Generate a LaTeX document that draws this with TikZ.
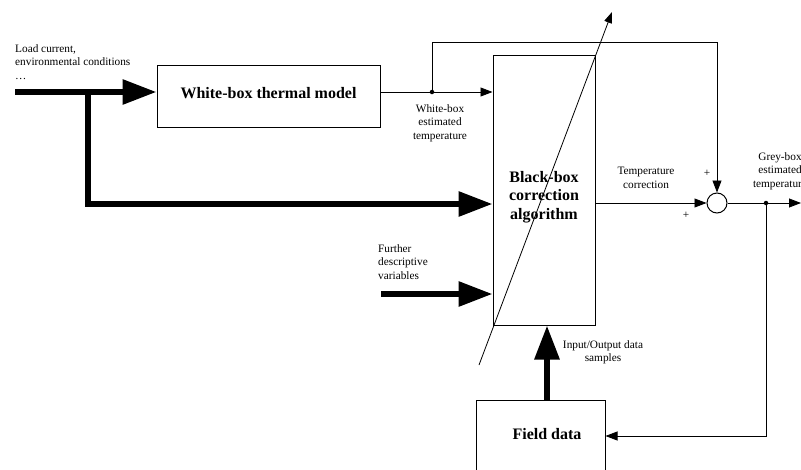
\documentclass[tikz,border=0pt]{standalone}
\usepackage{fontspec}
\setmainfont{Liberation Serif}
\usetikzlibrary{arrows.meta,calc}
\begin{document}
\begin{tikzpicture}[x=1pt,y=-1pt,
  blockbox/.style={draw,line width=1pt,inner sep=0pt},
  boldtext/.style={font=\fontsize{16}{18.5}\selectfont\bfseries,align=center},
  smalltext/.style={font=\fontsize{11.3}{13.8}\selectfont,inner sep=0pt},
  thick arrow/.style={line width=6pt,-{Triangle[length=34pt,width=24pt]}},
  thin arrow/.style={line width=0.8pt,-{Triangle[length=12pt,width=9pt]}},
  thin line/.style={line width=0.8pt},
  junction/.style={circle,fill,inner sep=0pt,minimum size=4.5pt}]
\useasboundingbox (0,0) rectangle (801,469);
\clip (0,0) rectangle (801,469);

% blocks
\node[blockbox,minimum width=223pt,minimum height=62pt] (wb) at (268.5,96) {};
\node[boldtext] (wbtext) at (268.5,93) {White-box thermal model};
\node[blockbox,minimum width=102pt,minimum height=270pt] (bb) at (544,190) {};
\node[boldtext] (bbtext) at (544,197) {Black-box\\correction\\algorithm};
\node[blockbox,minimum width=129pt,minimum height=80pt] (fd) at (540.5,440) {};
\node[boldtext] (fdtext) at (547,434) {Field data};
\node[draw,circle,line width=1pt,minimum size=20pt,inner sep=0pt] (sum) at (717,203) {};

% auxiliary points
\coordinate (in) at (15,92);
\coordinate (branch) at (88,92);
\coordinate (lower) at (88,204);
\coordinate (fv) at (381,294);
\coordinate (wbout) at (432,92);
\coordinate (top) at (432,42);
\coordinate (topr) at (717,42);
\coordinate (gbout) at (766,203);
\coordinate (gbend) at (801,203);
\coordinate (gbdown) at (766,436);
\coordinate (diagA) at (479,365);
\coordinate (diagB) at (612,12);

% thick inputs
\draw[thick arrow] (in) -- (wb.west |- in);
\draw[line width=6pt] (branch) -- (lower);
\draw[thick arrow] ([xshift=-3pt]lower) -- (bb.west |- lower);
\draw[thick arrow] (fv) -- (bb.west |- fv);
\draw[thick arrow] (fd.north -| fdtext) -- (bb.south -| fdtext);

% white-box output and feedforward
\draw[thin arrow] (wb.east |- wbout) -- (bb.west |- wbout);
\node[junction] (j1) at (wbout) {};
\draw[thin arrow] (j1) -- (top) -- (topr) -- (sum.north);

% correction path
\draw[thin arrow] (bb.east |- sum) -- (sum.west);
\draw[thin arrow] (sum.east) -- (gbend);
\node[junction] (j2) at (gbout) {};
\draw[thin arrow] (j2) -- (gbdown) -- (fd.east |- gbdown);

% adaptation arrow across the black box
\draw[line width=0.8pt,-{Triangle[length=11pt,width=8pt]}] (diagA) -- (diagB);

% labels
\node[smalltext,align=left,anchor=north west] (l1) at (15,44) {Load current,\\environmental conditions\\\ldots};
\node[smalltext,align=center,anchor=north] (l2) at (440,104) {White-box\\estimated\\temperature};
\node[smalltext,align=center,anchor=north] (l3) at (646,167) {Temperature\\correction};
\node[smalltext,align=center,anchor=north] (l4) at (780,152) {Grey-box\\estimated\\temperature};
\node[smalltext,align=left,anchor=north west] (l5) at (378,244) {Further\\descriptive\\variables};
\node[smalltext,align=center,anchor=north] (l6) at (603,340) {Input/Output data\\samples};
\node[smalltext] (p1) at (707,173) {+};
\node[smalltext] (p2) at (686,215) {+};
\end{tikzpicture}
\end{document}
